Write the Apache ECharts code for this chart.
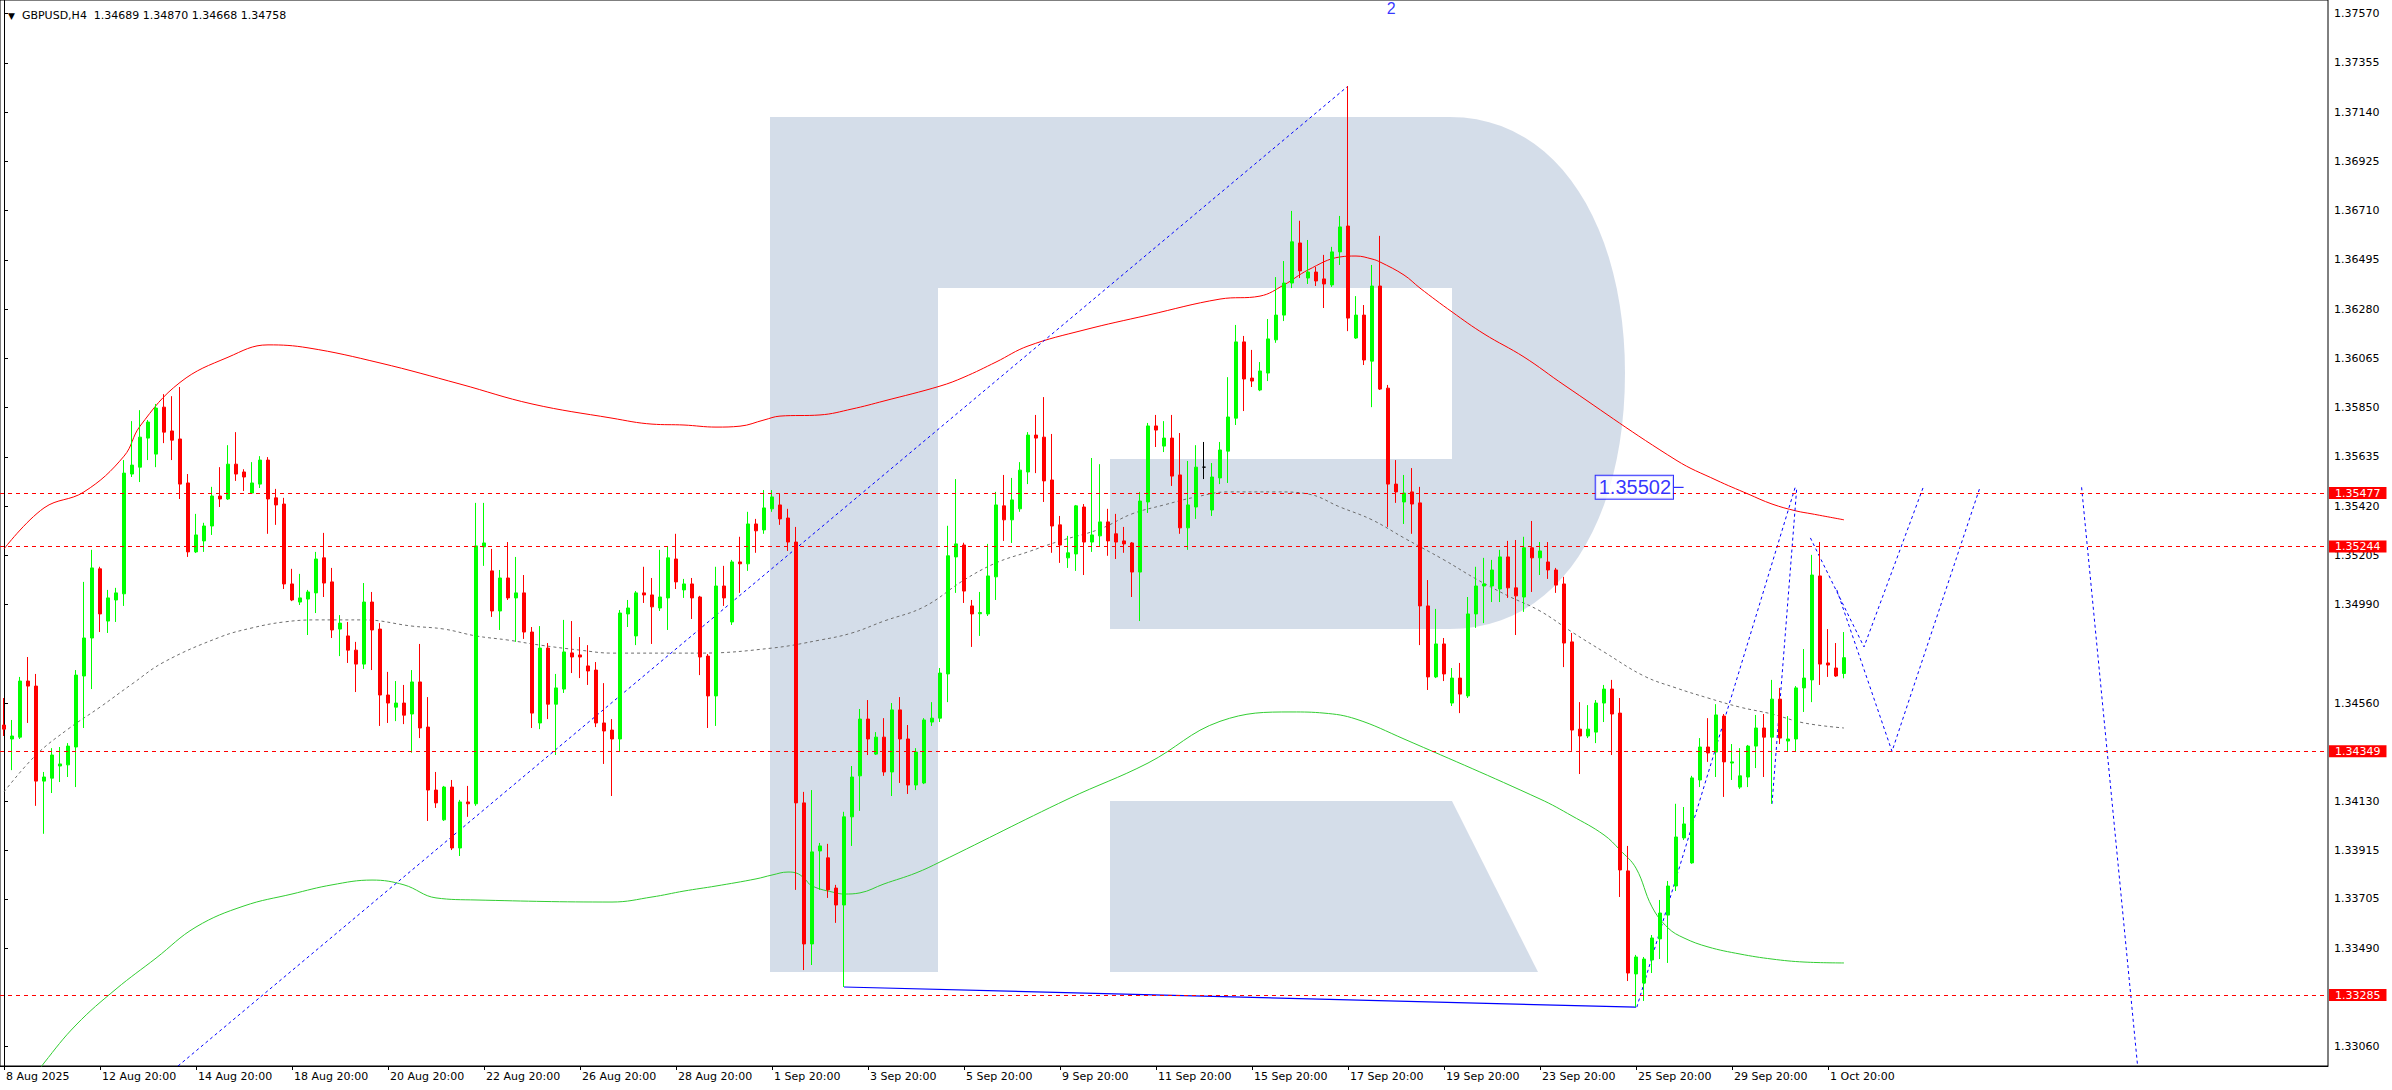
<!DOCTYPE html>
<html><head><meta charset="utf-8">
<script src="https://cdn.jsdelivr.net/npm/echarts@6/dist/echarts.min.js"></script>
<style>html,body{margin:0;padding:0;background:#fff}#c{width:2392px;height:1090px}</style>
</head><body><div id="c"></div>
<script>
const symbolName = 'GBPUSD,H4';
const xTickLabels = ['8 Aug 2025','12 Aug 20:00','14 Aug 20:00','18 Aug 20:00','20 Aug 20:00','22 Aug 20:00','26 Aug 20:00','28 Aug 20:00','1 Sep 20:00','3 Sep 20:00','5 Sep 20:00','9 Sep 20:00','11 Sep 20:00','15 Sep 20:00','17 Sep 20:00','19 Sep 20:00','23 Sep 20:00','25 Sep 20:00','29 Sep 20:00','1 Oct 20:00'];
const xTickBars = [0,12,24,36,48,60,72,84,96,108,120,132,144,156,168,180,192,204,216,228];
const priceTicks = [1.37570,1.37355,1.37140,1.36925,1.36710,1.36495,1.36280,1.36065,1.35850,1.35635,1.35420,1.35205,1.34990,1.34560,1.34130,1.33915,1.33705,1.33490,1.33060];
const levelLines = [1.35477,1.35244,1.34349,1.33285];
const currentPrice = 1.34758;
// [open, high, low, close] per H4 bar
const ohlc = [
[1.34464,1.34582,1.34416,1.34446],[1.34403,1.34486,1.34267,1.34416],[1.34411,1.34674,1.34403,1.34656],[1.34656,1.34761,1.34473,1.34634],
[1.34634,1.34687,1.34111,1.34219],[1.34219,1.34259,1.33989,1.34237],[1.34232,1.34363,1.34167,1.34333],[1.34285,1.34368,1.34215,1.34294],
[1.34290,1.34385,1.34237,1.34372],[1.34368,1.34704,1.34193,1.34682],[1.34678,1.35089,1.34451,1.34844],[1.34844,1.35229,1.34621,1.35150],
[1.35146,1.35155,1.34870,1.34949],[1.34918,1.35054,1.34866,1.35019],[1.35010,1.35063,1.34914,1.35041],[1.35037,1.35621,1.34984,1.35564],
[1.35560,1.35791,1.35547,1.35599],[1.35590,1.35839,1.35525,1.35721],[1.35717,1.35796,1.35621,1.35787],[1.35647,1.35866,1.35590,1.35848],
[1.35852,1.35909,1.35695,1.35743],[1.35748,1.35900,1.35621,1.35708],[1.35713,1.35940,1.35451,1.35516],[1.35521,1.35560,1.35198,1.35220],
[1.35220,1.35386,1.35215,1.35294],[1.35268,1.35347,1.35220,1.35333],[1.35333,1.35504,1.35294,1.35464],[1.35464,1.35590,1.35416,1.35451],
[1.35451,1.35686,1.35447,1.35603],[1.35603,1.35743,1.35530,1.35560],[1.35569,1.35581,1.35486,1.35547],[1.35477,1.35612,1.35473,1.35521],
[1.35516,1.35638,1.35499,1.35621],[1.35621,1.35634,1.35299,1.35451],[1.35456,1.35495,1.35338,1.35425],[1.35429,1.35456,1.35058,1.35080],
[1.35080,1.35146,1.35005,1.35010],[1.35001,1.35124,1.34988,1.35019],[1.35014,1.35054,1.34857,1.35045],[1.35041,1.35220,1.34953,1.35189],
[1.35194,1.35303,1.35023,1.35084],[1.35089,1.35150,1.34844,1.34879],[1.34883,1.34944,1.34765,1.34909],[1.34853,1.34914,1.34735,1.34791],
[1.34791,1.34827,1.34608,1.34730],[1.34730,1.35084,1.34709,1.35001],[1.35001,1.35045,1.34704,1.34879],[1.34883,1.34909,1.34460,1.34595],
[1.34595,1.34696,1.34473,1.34560],[1.34542,1.34656,1.34481,1.34560],[1.34560,1.34639,1.34468,1.34507],[1.34512,1.34704,1.34343,1.34652],
[1.34652,1.34818,1.34407,1.34451],[1.34455,1.34586,1.34045,1.34180],[1.34180,1.34259,1.34102,1.34124],[1.34050,1.34198,1.34045,1.34193],
[1.34193,1.34224,1.33918,1.33927],[1.33927,1.34137,1.33892,1.34128],[1.34128,1.34198,1.34063,1.34120],[1.34120,1.35434,1.34111,1.35246],
[1.35242,1.35434,1.35159,1.35259],[1.35137,1.35233,1.34936,1.34962],[1.34962,1.35141,1.34879,1.35106],[1.35106,1.35263,1.35010,1.35019],
[1.35019,1.35198,1.34827,1.35041],[1.35041,1.35119,1.34840,1.34870],[1.34870,1.34892,1.34451,1.34516],[1.34473,1.34896,1.34446,1.34800],
[1.34800,1.34822,1.34490,1.34555],[1.34555,1.34687,1.34333,1.34626],[1.34621,1.34923,1.34604,1.34783],[1.34779,1.34918,1.34691,1.34761],
[1.34770,1.34848,1.34669,1.34761],[1.34722,1.34813,1.34639,1.34700],[1.34704,1.34739,1.34455,1.34473],[1.34473,1.34647,1.34294,1.34438],
[1.34442,1.34490,1.34154,1.34403],[1.34403,1.34966,1.34346,1.34953],[1.34949,1.35010,1.34892,1.34975],[1.34853,1.35049,1.34813,1.35041],
[1.35041,1.35155,1.34997,1.35032],[1.35032,1.35106,1.34818,1.34980],[1.34975,1.35229,1.34962,1.35023],[1.35019,1.35242,1.34879,1.35194],
[1.35189,1.35299,1.35058,1.35089],[1.35054,1.35102,1.35019,1.35080],[1.35080,1.35106,1.34927,1.35019],[1.35023,1.35028,1.34682,1.34761],
[1.34765,1.34774,1.34451,1.34591],[1.34591,1.35155,1.34460,1.35071],[1.35071,1.35159,1.34984,1.35019],[1.34914,1.35185,1.34901,1.35176],
[1.35176,1.35286,1.35041,1.35168],[1.35168,1.35395,1.35137,1.35342],[1.35342,1.35364,1.35216,1.35312],[1.35316,1.35490,1.35299,1.35412],
[1.35408,1.35490,1.35395,1.35460],[1.35425,1.35477,1.35338,1.35364],[1.35368,1.35408,1.35224,1.35263],[1.35263,1.35329,1.33744,1.34124],
[1.34124,1.34172,1.33394,1.33508],[1.33508,1.34180,1.33416,1.33910],[1.33914,1.33949,1.33744,1.33936],[1.33884,1.33945,1.33709,1.33744],
[1.33752,1.33766,1.33600,1.33678],[1.33678,1.34085,1.33320,1.34063],[1.34063,1.34285,1.33936,1.34237],[1.34242,1.34534,1.34089,1.34490],
[1.34490,1.34573,1.34333,1.34403],[1.34337,1.34433,1.34333,1.34411],[1.34411,1.34494,1.34242,1.34259],[1.34259,1.34560,1.34154,1.34530],
[1.34530,1.34586,1.34211,1.34403],[1.34403,1.34464,1.34163,1.34202],[1.34202,1.34363,1.34180,1.34346],[1.34211,1.34494,1.34206,1.34486],
[1.34477,1.34564,1.34460,1.34494],[1.34494,1.34713,1.34477,1.34691],[1.34687,1.35334,1.34564,1.35203],[1.35198,1.35538,1.35041,1.35255],
[1.35250,1.35260,1.34997,1.35049],[1.34984,1.35010,1.34805,1.34949],[1.34950,1.35045,1.34853,1.34955],[1.34949,1.35255,1.34940,1.35115],
[1.35111,1.35482,1.35010,1.35425],[1.35421,1.35556,1.35268,1.35360],[1.35360,1.35543,1.35259,1.35447],[1.35408,1.35612,1.35395,1.35577],
[1.35569,1.35743,1.35516,1.35730],[1.35730,1.35818,1.35564,1.35717],[1.35721,1.35896,1.35438,1.35530],[1.35534,1.35735,1.35216,1.35333],
[1.35338,1.35377,1.35172,1.35250],[1.35194,1.35290,1.35150,1.35216],[1.35211,1.35425,1.35137,1.35421],[1.35416,1.35429,1.35119,1.35263],
[1.35263,1.35630,1.35220,1.35294],[1.35290,1.35603,1.35242,1.35351],[1.35351,1.35408,1.35203,1.35268],[1.35299,1.35386,1.35189,1.35263],
[1.35268,1.35329,1.35216,1.35255],[1.35259,1.35263,1.35023,1.35132],[1.35132,1.35482,1.34918,1.35442],[1.35438,1.35783,1.35390,1.35770],
[1.35770,1.35818,1.35678,1.35752],[1.35682,1.35791,1.35656,1.35717],[1.35717,1.35818,1.35508,1.35551],[1.35556,1.35739,1.35299,1.35325],
[1.35325,1.35617,1.35229,1.35425],[1.35416,1.35686,1.35364,1.35590],[1.35590,1.35700,1.35538,1.35590],[1.35403,1.35608,1.35377,1.35547],
[1.35543,1.35700,1.35516,1.35665],[1.35660,1.35983,1.35521,1.35809],[1.35804,1.36211,1.35774,1.36137],[1.36137,1.36163,1.35835,1.35975],
[1.35979,1.36102,1.35940,1.35966],[1.35927,1.36049,1.35922,1.36010],[1.36001,1.36237,1.35966,1.36150],[1.36146,1.36420,1.36133,1.36254],
[1.36254,1.36490,1.36228,1.36394],[1.36394,1.36709,1.36372,1.36574],[1.36569,1.36666,1.36416,1.36447],[1.36416,1.36582,1.36390,1.36442],
[1.36442,1.36464,1.36381,1.36403],[1.36412,1.36517,1.36285,1.36390],[1.36386,1.36552,1.36377,1.36530],[1.36530,1.36687,1.36473,1.36639],
[1.36643,1.37254,1.36184,1.36241],[1.36154,1.36337,1.36150,1.36254],[1.36254,1.36298,1.36036,1.36058],[1.36053,1.36473,1.35852,1.36381],
[1.36381,1.36600,1.35927,1.35931],[1.35935,1.35949,1.35329,1.35516],[1.35516,1.35621,1.35434,1.35482],[1.35438,1.35556,1.35342,1.35477],
[1.35482,1.35586,1.35299,1.35429],[1.35434,1.35504,1.34813,1.34984],[1.34984,1.35097,1.34617,1.34674],[1.34674,1.34971,1.34669,1.34818],
[1.34818,1.34844,1.34656,1.34687],[1.34560,1.34713,1.34547,1.34669],[1.34669,1.34735,1.34516,1.34599],[1.34591,1.35023,1.34582,1.34949],
[1.34949,1.35155,1.34888,1.35071],[1.35071,1.35194,1.34909,1.35080],[1.35071,1.35185,1.35001,1.35141],[1.35058,1.35229,1.35001,1.35198],
[1.35198,1.35268,1.35019,1.35063],[1.35063,1.35272,1.34857,1.35028],[1.35023,1.35286,1.34958,1.35238],[1.35238,1.35355,1.35045,1.35194],
[1.35194,1.35263,1.35119,1.35224],[1.35176,1.35263,1.35102,1.35141],[1.35141,1.35150,1.35041,1.35075],[1.35080,1.35111,1.34717,1.34822],
[1.34827,1.34866,1.34351,1.34442],[1.34446,1.34564,1.34250,1.34416],[1.34416,1.34551,1.34407,1.34446],[1.34433,1.34573,1.34385,1.34560],
[1.34560,1.34639,1.34477,1.34621],[1.34621,1.34661,1.34333,1.34512],[1.34516,1.34582,1.33713,1.33831],[1.33827,1.33936,1.33346,1.33381],
[1.33377,1.33460,1.33232,1.33451],[1.33337,1.33451,1.33259,1.33442],[1.33438,1.33547,1.33381,1.33534],[1.33530,1.33700,1.33442,1.33643],
[1.33634,1.33783,1.33425,1.33761],[1.33761,1.34120,1.33739,1.33975],[1.33971,1.34106,1.33962,1.34032],[1.33862,1.34242,1.33858,1.34233],
[1.34224,1.34407,1.34193,1.34368],[1.34368,1.34494,1.34303,1.34342],[1.34346,1.34555,1.34237,1.34508],[1.34503,1.34512,1.34150,1.34303],
[1.34298,1.34381,1.34224,1.34303],[1.34193,1.34363,1.34185,1.34242],[1.34237,1.34377,1.34193,1.34372],[1.34372,1.34508,1.34276,1.34451],
[1.34451,1.34512,1.34237,1.34411],[1.34411,1.34661,1.34120,1.34577],[1.34577,1.34626,1.34381,1.34407],[1.34394,1.34503,1.34351,1.34403],
[1.34403,1.34634,1.34346,1.34626],[1.34626,1.34796,1.34521,1.34669],[1.34661,1.35207,1.34564,1.35119],[1.35115,1.35263,1.34639,1.34730],
[1.34735,1.34883,1.34674,1.34726],[1.34713,1.34822,1.34674,1.34678],[1.34689,1.34870,1.34668,1.34758]
];
// indicator curves, [bar, price] samples
const upperBand = [[0,1.35233],[5,1.35412],[10,1.35482],[15,1.35638],[17,1.35769],[22,1.35960],[28,1.36070],[33,1.36124],[38,1.36111],[47,1.36045],[57,1.35953],[66,1.35866],[76,1.35804],[81,1.35778],[85,1.35774],[89,1.35765],[92,1.35769],[95,1.35796],[97,1.35813],[102,1.35818],[106,1.35844],[110,1.35879],[117,1.35944],[120,1.35983],[124,1.36049],[128,1.36119],[135,1.36189],[143,1.36254],[152,1.36324],[157,1.36337],[160,1.36386],[163,1.36451],[167,1.36508],[169,1.36512],[171,1.36499],[172,1.36486],[175,1.36429],[177,1.36372],[181,1.36268],[185,1.36172],[190,1.36071],[195,1.35949],[209,1.35621],[214,1.35534],[218,1.35473],[221,1.35429],[224,1.35399],[226,1.35386],[230,1.35360]];
const middleBand = [[0,1.34172],[4,1.34333],[8,1.34446],[12,1.34542],[16,1.34643],[20,1.34739],[27,1.34848],[31,1.34888],[35,1.34914],[39,1.34923],[45,1.34923],[51,1.34896],[55,1.34883],[59,1.34853],[63,1.34835],[67,1.34813],[72,1.34791],[76,1.34778],[87,1.34778],[96,1.34800],[102,1.34835],[106,1.34866],[110,1.34918],[115,1.34980],[120,1.35097],[124,1.35172],[128,1.35220],[132,1.35268],[137,1.35320],[141,1.35386],[145,1.35425],[149,1.35460],[153,1.35482],[159,1.35482],[163,1.35473],[167,1.35416],[171,1.35360],[175,1.35281],[180,1.35185],[184,1.35102],[188,1.35028],[192,1.34962],[196,1.34870],[200,1.34783],[205,1.34678],[209,1.34626],[213,1.34582],[217,1.34542],[221,1.34512],[225,1.34473],[230,1.34451]];
const lowerBand = [[4,1.32935],[5,1.32988],[9,1.33154],[14,1.33311],[19,1.33446],[24,1.33582],[30,1.33674],[36,1.33726],[41,1.33766],[46,1.33787],[50,1.33766],[54,1.33709],[59,1.33700],[76,1.33691],[81,1.33713],[85,1.33739],[89,1.33761],[94,1.33792],[96,1.33809],[98,1.33822],[99,1.33818],[100,1.33796],[101,1.33761],[104,1.33731],[105,1.33726],[107,1.33731],[110,1.33770],[114,1.33818],[117,1.33866],[133,1.34141],[143,1.34298],[152,1.34480],[161,1.34521],[165,1.34516],[169,1.34490],[175,1.34403],[192,1.34141],[196,1.34067],[200,1.33984],[202,1.33918],[204,1.33839],[206,1.33670],[208,1.33578],[210,1.33534],[213,1.33495],[217,1.33464],[221,1.33442],[225,1.33429],[230,1.33425]];
// hand-drawn analysis objects
const waveLine = [[21.75,1.32975],[168,1.37254]];
const supportLine = [[105,1.33320],[204,1.33232]];
const forecastA = [[204.1,1.33232],[223.9,1.35502]];
const forecastB = [[221,1.34120],[224.1,1.35502]];
const forecastC = [[225.8,1.35281],[232.5,1.34805],[239.9,1.35502]];
const forecastD = [[229.1,1.35054],[236,1.34349],[247,1.35502]];
const forecastE = [[259.7,1.35502],[266.7,1.32975]];
const targetPrice = 1.35502;
const targetBar = 208.75;
const waveTag = {bar:173.4, price:1.37592, text:'2'};

const FONT = 'DejaVu Sans';
const last = ohlc[ohlc.length-1];
const f5 = v => v.toFixed(5);
const candleData = ohlc.map((r,i)=>[i, r[0], r[3], r[2], r[1]]);
const dashBlue = {color:'#0000ff', width:1, type:[3,3]};
const HIDDEN = {color:'rgba(0,0,0,0)'};
function lineSeries(data, style, extra){
  return Object.assign({type:'line', data, showSymbol:false, symbol:'none', silent:true, lineStyle:style, z:3, animation:false}, extra||{});
}
// watermark logo outline (decoration, pixel space)
function bez(p0,p1,p2,p3,n){const out=[];for(let k=1;k<=n;k++){const t=k/n,u=1-t;out.push([u*u*u*p0[0]+3*u*u*t*p1[0]+3*u*t*t*p2[0]+t*t*t*p3[0],u*u*u*p0[1]+3*u*u*t*p1[1]+3*u*t*t*p2[1]+t*t*t*p3[1]]);}return out;}
const bowl = [[938,117],[1450,117]]
  .concat(bez([1450,117],[1560,117],[1625,230],[1625,373],24))
  .concat(bez([1625,373],[1625,520],[1560,629],[1450,629],24))
  .concat([[1110,629],[1110,459],[1452,459],[1452,288],[938,288]]);
const WM = 'rgba(0,55,125,0.17)';

const chart = echarts.init(document.getElementById('c'), null, {renderer:'svg'});
const option = {
  animation:false,
  backgroundColor:'#ffffff',
  title:{text:'{t|▼}  '+symbolName+'  '+last.map(f5).join(' '), left:3, top:5,
    textStyle:{fontFamily:FONT, fontSize:11, fontWeight:'normal', color:'#000', rich:{t:{fontSize:9, color:'#000', fontFamily:FONT}}}},
  grid:{left:0, right:64, top:0, bottom:24, show:true, borderColor:'#000', borderWidth:1, backgroundColor:'transparent'},
  xAxis:{type:'value', min:-0.5, max:290.5, splitLine:{show:false},
    axisLine:{show:true, onZero:false, lineStyle:{color:'#000', width:1}},
    axisTick:{show:true, customValues:xTickBars, length:4, lineStyle:{color:'#000'}},
    axisLabel:{customValues:xTickBars, formatter:v=>xTickLabels[xTickBars.indexOf(v)]||'', align:'left', margin:5, padding:[0,0,0,2], fontFamily:FONT, fontSize:11, color:'#000'}},
  yAxis:{type:'value', position:'right', min:1.32975, max:1.37630, splitLine:{show:false},
    axisLine:{show:true, lineStyle:{color:'#000', width:1}},
    axisTick:{show:true, customValues:priceTicks, length:4, lineStyle:{color:'#000'}},
    axisLabel:{customValues:priceTicks, formatter:v=>f5(v), margin:6, fontFamily:FONT, fontSize:11, color:'#000'}},
  series:[
    lineSeries(upperBand, {color:'#ff0000', width:1}, {smooth:0.4}),
    lineSeries(middleBand, {color:'#6e6e6e', width:1, type:[3,3]}, {smooth:0.4}),
    lineSeries(lowerBand, {color:'#32cd32', width:1}, {smooth:0.4}),
    {type:'candlestick', data:candleData, encode:{x:0, y:[1,2,3,4]}, barWidth:4, z:4, silent:true,
     itemStyle:{color:'#00ff00', color0:'#ff0000', borderColor:'#00ff00', borderColor0:'#ff0000', borderColorDoji:'#000000', borderWidth:1},
     markLine:{symbol:['none','none'], silent:true, animation:false, precision:5,
       data: levelLines.map(v=>({yAxis:v, lineStyle:{color:'#ff0000', width:1, type:[4,4]},
         label:{show:true, position:'end', distance:1, formatter:()=>f5(v), backgroundColor:'#ff0000', color:'#ffffff', padding:[1,6,0,6], fontFamily:FONT, fontSize:11}}))
         .concat([{yAxis:currentPrice, lineStyle:{opacity:0}, label:{show:true, position:'end', distance:1, formatter:()=>f5(currentPrice), backgroundColor:'#000000', color:'#ffffff', padding:[1,6,0,6], fontFamily:FONT, fontSize:11}}])}},
    lineSeries(waveLine, dashBlue),
    lineSeries(supportLine, {color:'#0000ff', width:1.2}),
    lineSeries(forecastA, dashBlue),
    lineSeries(forecastB, dashBlue),
    lineSeries(forecastC, dashBlue),
    lineSeries(forecastD, dashBlue),
    lineSeries(forecastE, dashBlue),
    lineSeries([[targetBar,targetPrice],[targetBar+1.2,targetPrice]], {color:'#0000ff', width:1}),
    {type:'scatter', data:[[targetBar,targetPrice]], symbolSize:2, itemStyle:HIDDEN, silent:true, z:6,
     label:{show:true, position:'left', distance:0, formatter:()=>f5(targetPrice), color:'#0000ff', fontFamily:'Liberation Sans', fontSize:20,
       borderColor:'#0000ff', borderWidth:1, padding:[2,2,1,3], backgroundColor:'#ffffff'}},
    {type:'scatter', data:[[waveTag.bar,waveTag.price]], symbolSize:2, itemStyle:HIDDEN, silent:true, clip:false, z:6,
     label:{show:true, position:'inside', formatter:waveTag.text, color:'#0000ff', fontFamily:'Liberation Sans', fontSize:16}}
  ],
  graphic:[{type:'group', z:100, silent:true, children:[
    {type:'rect', shape:{x:770, y:117, width:168, height:855}, style:{fill:WM}},
    {type:'polygon', shape:{points:bowl}, style:{fill:WM}},
    {type:'polygon', shape:{points:[[1110,801],[1452,801],[1538,972],[1110,972]]}, style:{fill:WM}}
  ]}]
};
chart.setOption(option);
</script>
</body></html>
